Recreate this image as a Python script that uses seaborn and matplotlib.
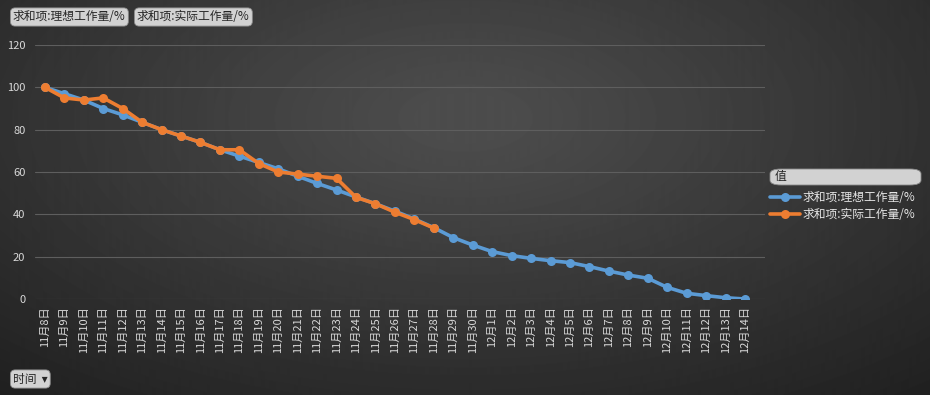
import numpy as np
import pandas as pd
import matplotlib
matplotlib.use("Agg")
import matplotlib.pyplot as plt
import seaborn as sns
from matplotlib.patches import FancyBboxPatch
from matplotlib.lines import Line2D

# data
dates = ["11月8日", "11月9日", "11月10日", "11月11日", "11月12日", "11月13日", "11月14日",
         "11月15日", "11月16日", "11月17日", "11月18日", "11月19日", "11月20日", "11月21日",
         "11月22日", "11月23日", "11月24日", "11月25日", "11月26日", "11月27日", "11月28日",
         "11月29日", "11月30日", "12月1日", "12月2日", "12月3日", "12月4日", "12月5日",
         "12月6日", "12月7日", "12月8日", "12月9日", "12月10日", "12月11日", "12月12日",
         "12月13日", "12月14日"]
ideal = [100, 97, 94, 90, 87, 83.5, 80, 77, 74, 70.5, 67.5, 64.5, 61.5, 58, 54.6, 51.5,
         48.2, 45, 41.5, 37.8, 33.7, 29, 25.5, 22.4, 20.5, 19.2, 18.1, 17.2, 15.3, 13.2,
         11.3, 9.8, 5.5, 2.7, 1.6, 0.6, 0]
actual = [100, 95, 94, 95, 90, 83.5, 80, 77, 74, 70.5, 70.5, 64, 60, 59, 58, 57,
          48, 45, 41, 37.5, 33.5]
series_names = ["求和项:理想工作量/%", "求和项:实际工作量/%"]
colors = ["#5B9BD5", "#ED7D31"]
yticks = [0, 20, 40, 60, 80, 100, 120]

sns.set_style("dark")
plt.rcParams['font.family'] = ['Noto Sans CJK SC', 'DejaVu Sans']

df = pd.concat([
    pd.DataFrame({"idx": range(len(ideal)), "value": ideal, "series": series_names[0]}),
    pd.DataFrame({"idx": range(len(actual)), "value": actual, "series": series_names[1]}),
], ignore_index=True)

W, H = 930, 395
fig = plt.figure(figsize=(W / 100, H / 100), dpi=100)
fig.patch.set_facecolor("#2a2a2a")

# dark radial background
bg = fig.add_axes([0, 0, 1, 1], zorder=0)
yy, xx = np.mgrid[0:1:H * 1j, 0:1:W * 1j]
r = np.sqrt(((xx - 0.5) / 0.85) ** 2 + ((yy - 0.3) / 1.0) ** 2)
shade = np.clip(0.31 - 0.2 * r, 0.12, 0.30)
bg.imshow(shade, cmap="gray", vmin=0, vmax=1, aspect="auto", extent=[0, 1, 0, 1], origin="upper")
bg.axis("off")

ax = fig.add_axes([35 / W, 1 - 299 / H, 730 / W, 254 / H], zorder=1)
ax.patch.set_alpha(0)
sns.lineplot(data=df, x="idx", y="value", hue="series", palette=colors, marker="o",
             markersize=6.5, markeredgewidth=0, linewidth=2.6, sort=False, legend=False, ax=ax)

ax.set_xlim(-0.51, 37.03)
ax.set_ylim(0, 120)
ax.set_xticks(range(len(dates)))
ax.set_xticklabels(dates, rotation=90, fontsize=8, color="#d9d9d9")
ax.set_yticks(yticks)
ax.set_yticklabels([str(v) for v in yticks], fontsize=8, color="#d9d9d9")
ax.tick_params(axis="both", length=0)
ax.tick_params(axis="x", pad=5)
ax.tick_params(axis="y", pad=7)
ax.yaxis.grid(True, color="#5e5e5e", linewidth=0.8)
ax.xaxis.grid(False)
ax.set_xlabel("")
ax.set_ylabel("")
for s in ax.spines.values():
    s.set_visible(False)

# field buttons
btn = dict(boxstyle="round,pad=0.22,rounding_size=0.4", fc="#d2d2d2", ec="#8a8a8a", lw=0.6)
fig.text(13 / W, 1 - 17 / H, series_names[0], fontsize=8.5, color="#262626", va="center", bbox=btn)
fig.text(137 / W, 1 - 17 / H, series_names[1], fontsize=8.5, color="#262626", va="center", bbox=btn)
fig.text(13 / W, 1 - 379 / H, "时间  ▾", fontsize=8.5, color="#262626", va="center", bbox=btn)

# legend header
hdr = FancyBboxPatch((770 / W, 1 - 185 / H), 151 / W, 16 / H, transform=fig.transFigure,
                     boxstyle="round,pad=0,rounding_size=0.012", fc="#d2d2d2", ec="#8a8a8a", lw=0.6)
fig.patches.append(hdr)
fig.text(775 / W, 1 - 177 / H, "值", fontsize=8.5, color="#262626", va="center")

handles = [Line2D([0], [0], color=c, lw=2.6, marker="o", markersize=6.5, markeredgewidth=0) for c in colors]
fig.legend(handles, series_names, loc="upper left", bbox_to_anchor=(765 / W, 1 - 186 / H),
           frameon=False, fontsize=8.5, labelcolor="#e6e6e6", handlelength=2.6,
           handletextpad=0.2, labelspacing=0.35, borderaxespad=0)

fig.savefig("out.png", dpi=100, facecolor=fig.get_facecolor())
